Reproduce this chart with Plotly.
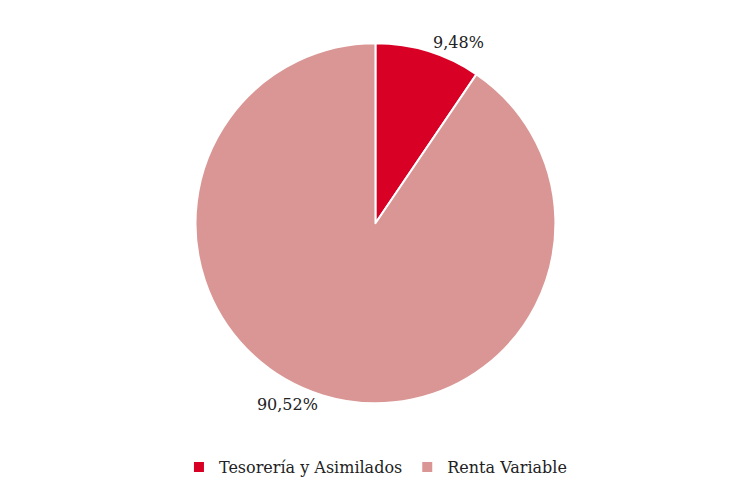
import plotly.graph_objects as go

labels = ["Tesorería y Asimilados", "Renta Variable"]
values = [9.48, 90.52]
colors = ["#D90025", "#D99694"]

fig = go.Figure()
fig.add_trace(go.Pie(
    labels=labels, values=values, sort=False, direction="clockwise", rotation=0,
    marker=dict(colors=colors, line=dict(color="white", width=2)),
    texttemplate="%{percent:.2%}", textposition="outside",
    textfont=dict(size=16, color="#222222"),
    domain=dict(x=[0, 0.98], y=[0.195, 0.928]),
    hoverinfo="label+percent",
))

fig.update_layout(
    width=735, height=491,
    margin=dict(l=0, r=0, t=0, b=0),
    paper_bgcolor="white",
    separators=",.",
    font=dict(family="DejaVu Serif, serif", size=16, color="#222222"),
    legend=dict(orientation="h", x=0.49, xanchor="center", y=0.065, yanchor="middle",
                font=dict(size=16)),
)

fig.write_html("out.html")
